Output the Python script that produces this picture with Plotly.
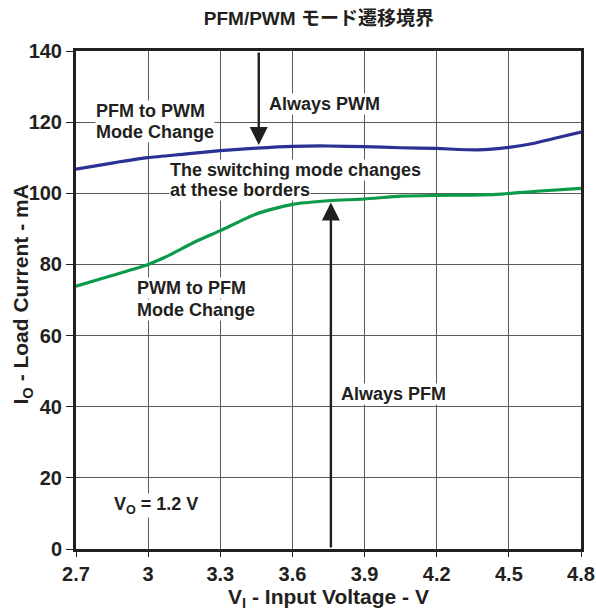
import plotly.graph_objects as go

# Boundary between PFM and PWM operation (V_O = 1.2 V)
vin_pfm_to_pwm = [2.7, 2.85, 3.0, 3.15, 3.3, 3.45, 3.6, 3.75, 3.9, 4.05, 4.2, 4.37, 4.5, 4.6, 4.7, 4.8]
io_pfm_to_pwm = [106.8, 108.5, 110.0, 111.0, 112.0, 112.7, 113.2, 113.3, 113.1, 112.8, 112.6, 112.2, 112.9, 114.0, 115.6, 117.2]

vin_pwm_to_pfm = [2.7, 2.85, 3.0, 3.07, 3.2, 3.3, 3.45, 3.6, 3.75, 3.9, 4.05, 4.2, 4.35, 4.45, 4.6, 4.8]
io_pwm_to_pfm = [73.9, 76.9, 80.0, 82.0, 86.5, 89.5, 94.2, 96.9, 97.9, 98.4, 99.2, 99.4, 99.5, 99.7, 100.5, 101.4]

x_ticks = [2.7, 3.0, 3.3, 3.6, 3.9, 4.2, 4.5, 4.8]
x_tick_labels = ["2.7", "3", "3.3", "3.6", "3.9", "4.2", "4.5", "4.8"]
y_ticks = [0, 20, 40, 60, 80, 100, 120, 140]

# Arrows: (x, tail y, head y)
arrow_pwm = (3.46, 140, 113.6)
arrow_pfm = (3.76, 0, 97.4)

TXT = "#231f20"
FONT = "Liberation Sans, Arial, Noto Sans CJK JP, sans-serif"

fig = go.Figure()
fig.add_trace(go.Scatter(x=vin_pfm_to_pwm, y=io_pfm_to_pwm, mode="lines",
                         line=dict(color="#2b3192", width=3.2, shape="spline", smoothing=0.6),
                         hoverinfo="skip", showlegend=False))
fig.add_trace(go.Scatter(x=vin_pwm_to_pfm, y=io_pwm_to_pfm, mode="lines",
                         line=dict(color="#0a9a4a", width=3.2, shape="spline", smoothing=0.6),
                         hoverinfo="skip", showlegend=False))

# In-plot labels, one line each: (x, y, text)
labels = [
    (2.779, 123.1, "PFM to PWM"),
    (2.779, 117.3, "Mode Change"),
    (3.498, 125.0, "Always PWM"),
    (3.087, 106.6, "The switching mode changes"),
    (3.087, 100.9, "at these borders"),
    (2.950, 73.4, "PWM to PFM"),
    (2.950, 67.3, "Mode Change"),
    (3.798, 43.6, "Always PFM"),
    (2.854, 12.1, "V<sub>O</sub> = 1.2 V"),
]
annotations = []
for x, y, t in labels:
    annotations.append(dict(x=x, y=y, xref="x", yref="y", text="<b>" + t + "</b>",
                            showarrow=False, xanchor="left", yanchor="middle", align="left",
                            font=dict(family=FONT, size=18, color=TXT),
                            bgcolor="white", borderpad=0))

for ax_x, tail, head in (arrow_pwm, arrow_pfm):
    annotations.append(dict(x=ax_x, y=head, ax=ax_x, ay=tail, xref="x", yref="y",
                            axref="x", ayref="y", text="", showarrow=True,
                            arrowhead=2, arrowsize=1.5, arrowwidth=2.4, arrowcolor=TXT))

# Y axis title, placed beside the tick labels
annotations.append(dict(x=-0.107, y=0.511, xref="paper", yref="paper", textangle=-90,
                        text="<b>I<sub>O</sub> - Load Current - mA</b>", showarrow=False,
                        xanchor="center", yanchor="middle",
                        font=dict(family=FONT, size=21, color=TXT)))

fig.update_layout(
    width=596, height=611,
    margin=dict(l=76, r=15, t=51, b=62, autoexpand=False),
    paper_bgcolor="white", plot_bgcolor="white",
    title=dict(text="<b>PFM/PWM モード遷移境界</b>", x=0.535, xanchor="center",
               y=1 - 18 / 611, yanchor="middle", xref="container", yref="container",
               font=dict(family=FONT, size=19, color=TXT)),
    annotations=annotations,
    font=dict(family=FONT, color=TXT),
)
fig.update_xaxes(range=[2.7, 4.8], tickvals=x_ticks, ticktext=["<b>%s</b>" % t for t in x_tick_labels],
                 showgrid=True, gridcolor="#5a5a5a", gridwidth=1, automargin=False,
                 showline=True, linecolor="#231f20", linewidth=3, mirror=True,
                 ticks="outside", ticklen=5, tickwidth=1, tickcolor=TXT,
                 tickfont=dict(family=FONT, size=20, color=TXT), zeroline=False,
                 title=dict(text="<b>V<sub>I</sub> - Input Voltage - V</b>", standoff=6,
                            font=dict(family=FONT, size=21, color=TXT)))
fig.update_yaxes(range=[0, 140], tickvals=y_ticks, ticktext=["<b>%d</b>" % v for v in y_ticks],
                 showgrid=True, gridcolor="#5a5a5a", gridwidth=1, automargin=False,
                 showline=True, linecolor="#231f20", linewidth=3, mirror=True,
                 ticks="outside", ticklen=7, tickwidth=1, tickcolor=TXT,
                 tickfont=dict(family=FONT, size=20, color=TXT), zeroline=False)

fig.write_html("out.html")
